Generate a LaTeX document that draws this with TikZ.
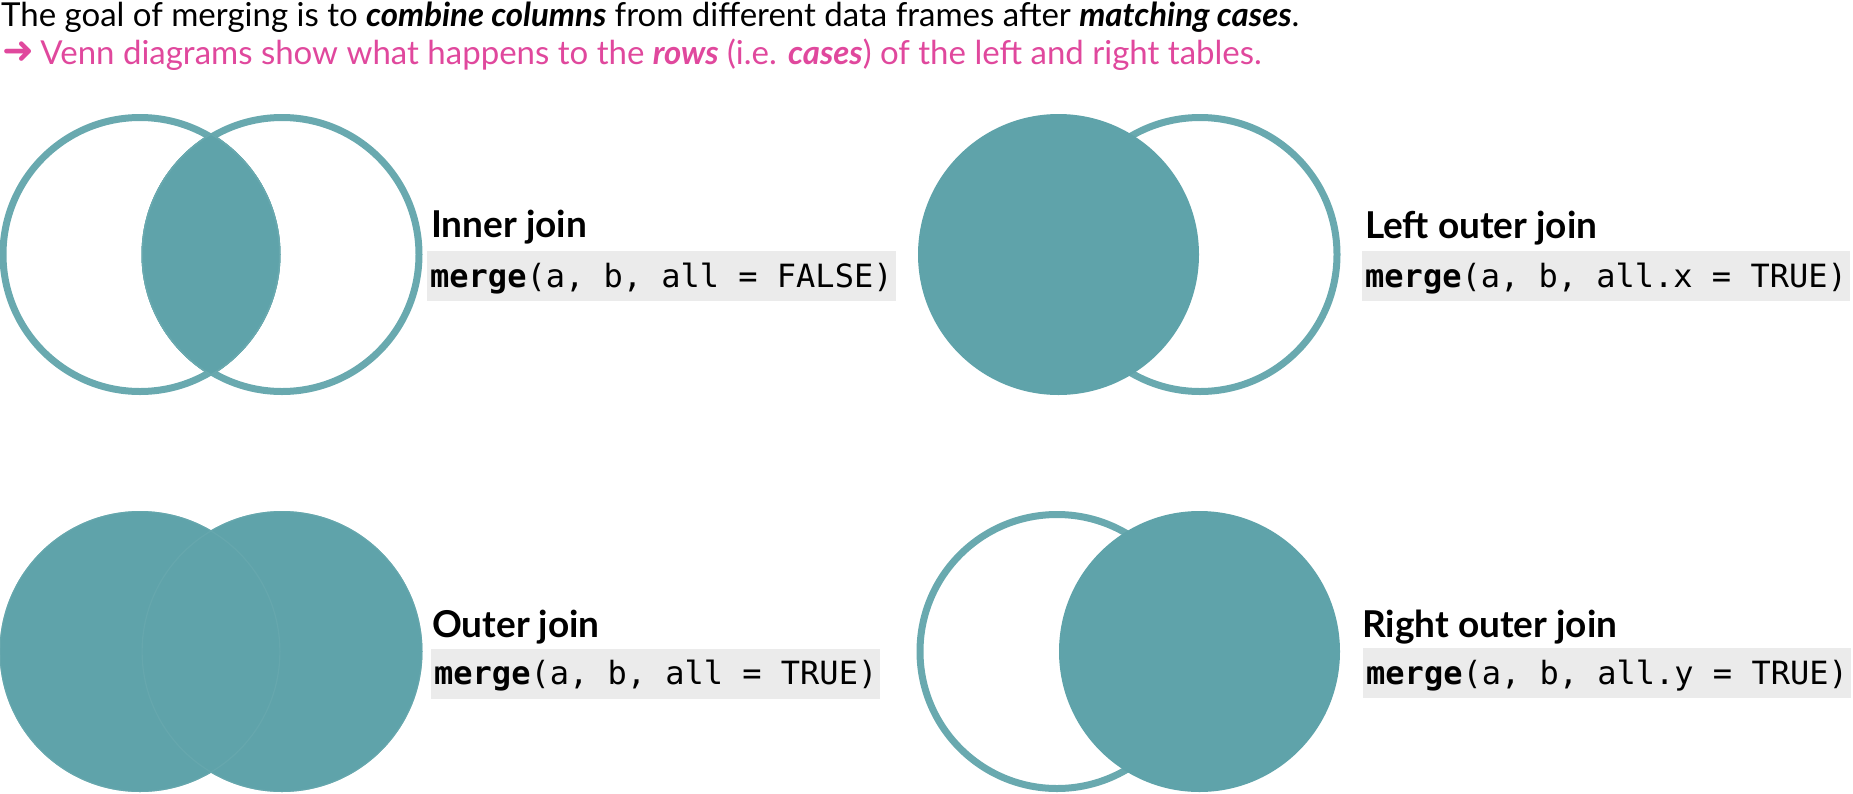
\documentclass[tikz,border=0pt]{standalone}
\usepackage{fontspec}
\setmainfont{Lato}
\setmonofont{DejaVu Sans Mono}
\newfontfamily\arrowfont{DejaVu Sans}
\definecolor{tealfill}{HTML}{5FA3AA}
\definecolor{tealline}{HTML}{69A9AF}
\definecolor{pinktext}{HTML}{E0489D}
\definecolor{codegray}{HTML}{EBEBEB}
\tikzset{
  ring/.style={draw=tealline, line width=7pt},
  disk/.style={fill=tealfill},
  rim/.style={draw=tealline, line width=1.5pt},
  headline/.style={anchor=base west, inner sep=0pt, font=\fontsize{33}{38}\selectfont},
  jointitle/.style={anchor=base west, inner sep=0pt, font=\fontsize{37}{44}\selectfont\bfseries},
  codebox/.style={anchor=west, fill=codegray, inner xsep=3pt, inner ysep=10pt,
    text height=26pt, text depth=4pt, font=\fontsize{32}{36}\selectfont\ttfamily}
}
\begin{document}
\begin{tikzpicture}[x=1pt,y=-1pt]
\useasboundingbox (0,0) rectangle (1853,793);
% header
\node[headline] (h1) at (1,26.5) {The goal of merging is to \textbf{\textit{combine columns}} from different data frames after \textbf{\textit{matching cases}}.};
\node[headline, text=pinktext] (h2) at (2,64) {\raisebox{1pt}{\arrowfont\bfseries\fontsize{38}{40}\selectfont ➜}\hspace{-2pt} Venn diagrams show what happens to the \textbf{\textit{rows}} (i.e. \textbf{\textit{cases}}) of the left and right tables.};

% ---- Inner join (top left)
\draw[ring] (140,254.5) circle (137);
\draw[ring] (282,254.5) circle (137);
\begin{scope}
  \clip (140,254.5) circle (140.5);
  \fill[tealfill] (282,254.5) circle (140.5);
\end{scope}
\begin{scope}
  \clip (140,254.5) circle (140.5);
  \draw[rim] (282,254.5) circle (139.75);
\end{scope}
\begin{scope}
  \clip (282,254.5) circle (140.5);
  \draw[rim] (140,254.5) circle (139.75);
\end{scope}
\node[jointitle] (t1) at (431,237) {Inner join};
\node[codebox] (c1) at (427,276) {\textbf{merge}(a, b, all = FALSE)};

% ---- Left outer join (top right)
\draw[ring] (1200,254.5) circle (137);
\fill[disk] (1058.5,254.5) circle (140.5);
\node[jointitle] (t2) at (1365,238) {Left outer join};
\node[codebox] (c2) at (1362,276) {\textbf{merge}(a, b, all.x = TRUE)};

% ---- Outer join (bottom left)
\fill[disk] (140,651.5) circle (140.5);
\fill[disk] (282,651.5) circle (140.5);
\draw[draw=tealline, line width=1.2pt, opacity=0.7] (140,651.5) circle (139.9);
\draw[draw=tealline, line width=1.2pt, opacity=0.7] (282,651.5) circle (139.9);
\node[jointitle] (t3) at (432,637) {Outer join};
\node[codebox] (c3) at (431,673.5) {\textbf{merge}(a, b, all = TRUE)};

% ---- Right outer join (bottom right)
\draw[ring] (1057,651.5) circle (137);
\fill[disk] (1199.5,651.5) circle (140.5);
\node[jointitle] (t4) at (1362,637) {Right outer join};
\node[codebox] (c4) at (1363,673) {\textbf{merge}(a, b, all.y = TRUE)};
\end{tikzpicture}
\end{document}
